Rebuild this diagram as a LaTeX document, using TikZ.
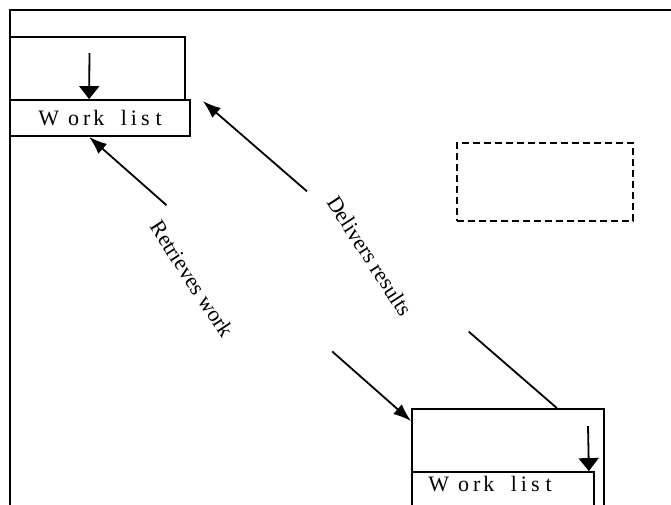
\documentclass[tikz,border=0pt]{standalone}
\usepackage{fontspec}
\setmainfont{Liberation Serif}
\usetikzlibrary{arrows.meta,calc}
\newcommand\wltext{W\kern9pt o\kern4pt r\kern3pt k\kern11pt\ l\kern4pt i\kern4pt s\kern6pt t}
\begin{document}
\begin{tikzpicture}[x=1pt,y=-1pt,
  frameline/.style={line width=1.8pt},
  boxline/.style={draw, line width=1.8pt, inner sep=0pt},
  dashbox/.style={draw, line width=1.6pt, dash pattern=on 7pt off 4pt, inner sep=0pt},
  lbl/.style={font=\fontsize{22}{26}\selectfont, rotate=-57},
  listtxt/.style={font=\fontsize{22}{26}\selectfont},
  conn/.style={line width=1.8pt},
  tip/.style={-{Latex[length=18pt,width=13pt]}},
  downtip/.style={-{Triangle[length=13pt,width=20pt]}}]
\useasboundingbox (0,0) rectangle (671,505);
\clip (0,0) rectangle (671,505);
% frame
\draw[frameline] (10,510) -- (10,10) -- (675,10);
% top boxes
\node[boxline, minimum width=175pt, minimum height=63pt] (topOuter) at (97.5,68.5) {};
\node[boxline, fill=white, minimum width=180pt, minimum height=36pt, listtxt] (topList) at (100,118) {\wltext};
% bottom boxes
\node[boxline, minimum width=192pt, minimum height=115pt] (botOuter) at (508,466.5) {};
\node[boxline, minimum width=182pt, minimum height=50pt] (botList) at (503,497) {};
\node[listtxt, inner sep=0pt] (botListText) at (490,484) {\wltext};
% dashed box
\node[dashbox, minimum width=176pt, minimum height=78pt] (dashed) at (545,182) {};
% inner arrows
\coordinate (inTop) at ([xshift=-8pt,yshift=-17pt]topOuter.north);
\coordinate (inTopEnd) at ([xshift=80pt]topList.north west);
\draw[conn, downtip] (inTop) -- (inTopEnd);
\coordinate (inBot) at ([xshift=80pt,yshift=-18pt]botOuter.north);
\coordinate (inBotEnd) at ([xshift=-6pt]botList.north east);
\draw[conn, downtip] (inBot) -- (inBotEnd);
% Retrieves work connector
\coordinate (rwTop) at ([xshift=80pt]topList.south west);
\coordinate (rwBot) at ([yshift=-13pt]botOuter.north west);
\draw[conn, tip] ($(rwTop)!0.24!(rwBot)$) -- (rwTop);
\draw[conn, tip] ($(rwTop)!0.755!(rwBot)$) -- (rwBot);
\node[lbl] (rwLabel) at (192,279) {Retrieves work};
% Delivers results connector
\coordinate (drTop) at ([xshift=12pt,yshift=-2pt]topList.north east);
\coordinate (drBot) at ([xshift=-48pt]botOuter.north east);
\draw[conn, tip] ($(drTop)!0.294!(drBot)$) -- (drTop);
\draw[conn] ($(drTop)!0.751!(drBot)$) -- (drBot);
\node[lbl] (drLabel) at (370,256) {Delivers results};
\end{tikzpicture}
\end{document}
